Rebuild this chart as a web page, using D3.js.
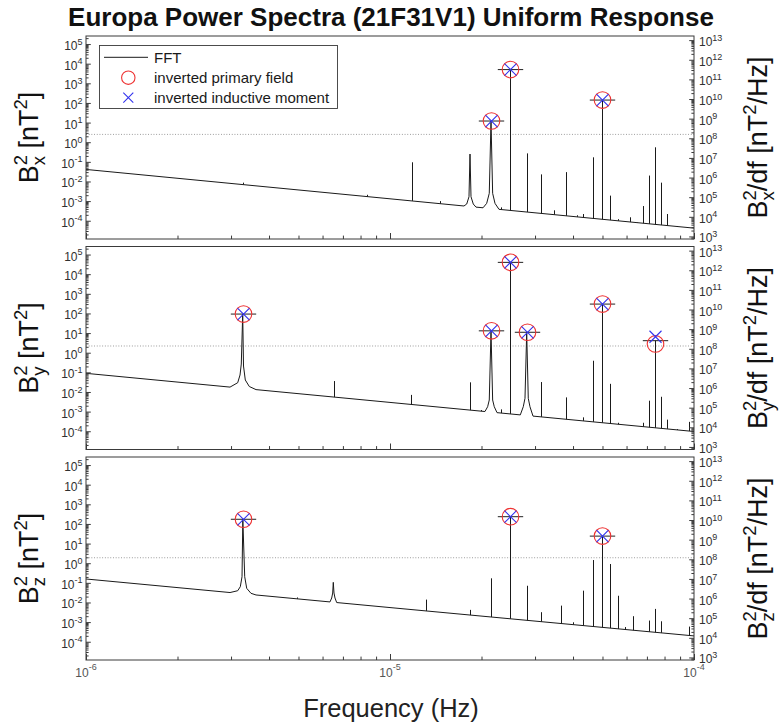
<!DOCTYPE html>
<html>
<head>
<meta charset="utf-8">
<script src="https://cdn.jsdelivr.net/npm/d3@7"></script>
<style>
  body { margin: 0; background: #fff; }
  svg { display: block; }
  text { font-family: "Liberation Sans", Arial, Helvetica, sans-serif; }
</style>
</head>
<body>
<svg id="chart" width="779" height="724"></svg>
<script>
// axis ranges (log10 exponents for the y axes)
const freqDomain = [1e-6, 1e-4];
const leftExp = [-4.93, 5.41];
const rightShift = 7.8;           // B^2/df axis = B^2 axis shifted by this many decades
const xMajor = [1e-6, 1e-5, 1e-4];

// smooth background of each FFT spectrum, [Hz, nT^2]
const bxBase = [[1e-6, 0.041], [1e-5, 1.31e-3], [1e-4, 4.2e-5]];
const byBase = [[1e-6, 0.089], [1e-5, 2.94e-3], [1e-4, 9.7e-5]];
const bzBase = [[1e-6, 0.157], [1e-5, 5.5e-3], [1e-4, 1.98e-4]];

// broad (resolved) peaks, traced point by point
const bxFlares = [
  [[1.751e-5, 5.64e-4], [1.788e-5, 7.1e-4], [1.819e-5, 1.67e-3], [1.833e-5, 0.25], [1.847e-5, 1.67e-3], [1.879e-5, 7.1e-4], [1.918e-5, 4.94e-4]],
  [[2.023e-5, 4.57e-4], [2.080e-5, 7.7e-4], [2.121e-5, 2.5e-3], [2.149e-5, 12], [2.176e-5, 2.5e-3], [2.215e-5, 7.7e-4], [2.283e-5, 3.81e-4]]
];
const byFlares = [
  [[2.977e-6, 0.0177], [3.155e-6, 0.0296], [3.211e-6, 0.0731], [3.242e-6, 0.265], [3.277e-6, 93], [3.297e-6, 0.210], [3.342e-6, 0.0407], [3.445e-6, 0.0190], [3.625e-6, 0.0132]],
  [[2.053e-5, 1.01e-3], [2.095e-5, 1.77e-3], [2.121e-5, 3.9e-3], [2.149e-5, 13], [2.176e-5, 3.9e-3], [2.203e-5, 1.77e-3], [2.249e-5, 8.85e-4]],
  [[2.683e-5, 6.8e-4], [2.744e-5, 1.77e-3], [2.780e-5, 4.75e-3], [2.816e-5, 11], [2.850e-5, 4.75e-3], [2.887e-5, 1.77e-3], [2.954e-5, 5.9e-4]]
];
const bzFlares = [
  [[2.977e-6, 0.0321], [3.155e-6, 0.0397], [3.218e-6, 0.0635], [3.260e-6, 0.205], [3.28e-6, 173], [3.327e-6, 0.205], [3.378e-6, 0.0526], [3.489e-6, 0.0293], [3.625e-6, 0.0241]],
  [[6.347e-6, 0.01066], [6.430e-6, 0.0169], [6.479e-6, 0.0303], [6.508e-6, 0.106], [6.543e-6, 0.0303], [6.593e-6, 0.0169], [6.678e-6, 0.0099]]
];

// narrow spectral lines, [Hz, peak nT^2]
const bxSpikes = [
  [3.277e-6, 8.7e-3], [8.40e-6, 2.1e-3], [1.179e-5, 0.095], [1.460e-5, 1.0e-3], [2.318e-5, 4.8e-4],
  [2.482e-5, 5000], [2.816e-5, 0.27], [3.138e-5, 0.023], [3.463e-5, 3.4e-4], [3.793e-5, 0.030],
  [4.114e-5, 1.9e-4], [4.305e-5, 2.2e-4], [4.643e-5, 0.17], [4.963e-5, 140], [5.292e-5, 1.9e-3],
  [5.623e-5, 1.2e-4], [6.158e-5, 1.5e-4], [6.479e-5, 8.3e-5], [6.795e-5, 5.6e-4], [7.128e-5, 0.020],
  [7.443e-5, 0.55], [7.771e-5, 8.7e-3], [8.120e-5, 2.2e-4], [8.772e-5, 5.4e-5]
];
const bySpikes = [
  [6.557e-6, 0.036], [1.173e-5, 7.1e-3], [1.833e-5, 0.031], [1.988e-5, 1.2e-3], [2.318e-5, 1.3e-3],
  [2.482e-5, 4.0e4], [3.138e-5, 0.032], [3.793e-5, 5.3e-3], [4.305e-5, 5.1e-4], [4.643e-5, 0.39],
  [4.963e-5, 300], [5.292e-5, 0.026], [5.623e-5, 2.7e-4], [6.795e-5, 2.7e-4], [7.128e-5, 3.6e-3],
  [7.443e-5, 4.1], [7.771e-5, 5.7e-3], [8.120e-5, 3.9e-4], [8.772e-5, 1.3e-4], [9.628e-5, 3.0e-4]
];
const bzSpikes = [
  [4.93e-6, 0.018], [1.309e-5, 0.014], [1.833e-5, 4.2e-3], [2.149e-5, 0.17], [2.482e-5, 234],
  [2.816e-5, 0.071], [3.138e-5, 3.2e-3], [3.660e-5, 6.9e-3], [3.991e-5, 9.8e-4], [4.31e-5, 0.040],
  [4.643e-5, 1.45], [4.963e-5, 24], [5.292e-5, 0.91], [5.623e-5, 0.022], [5.943e-5, 5.6e-4],
  [6.285e-5, 2.0e-3], [7.128e-5, 1.2e-3], [7.443e-5, 4.7e-3], [7.771e-5, 1.1e-3], [9.628e-5, 5.9e-4]
];

// dotted significance level per component
const thresholds = [2.5, 2.2, 1.9];

// inverted lines: frequency, FFT peak, primary field, inductive moment
const bxMarkFreq = [2.149e-5, 2.482e-5, 4.963e-5];
const bxMarkFFT = [12, 5000, 140];
const bxMarkPrimary = [12, 5000, 140];
const bxMarkInductive = [12, 5000, 140];
const byMarkFreq = [3.277e-6, 2.149e-5, 2.482e-5, 2.816e-5, 4.963e-5, 7.443e-5];
const byMarkFFT = [93, 13, 4.0e4, 11, 300, 4.1];
const byMarkPrimary = [93, 13, 4.0e4, 11, 300, 2.8];
const byMarkInductive = [93, 13, 4.0e4, 11, 300, 6.5];
const bzMarkFreq = [3.28e-6, 2.482e-5, 4.963e-5];
const bzMarkFFT = [173, 234, 24];
const bzMarkPrimary = [173, 234, 24];
const bzMarkInductive = [173, 234, 24];

const legendLabels = ['FFT', 'inverted primary field', 'inverted inductive moment'];

const panels = [
  { sub: 'x', base: bxBase, flares: bxFlares, spikes: bxSpikes, f: bxMarkFreq, fft: bxMarkFFT, prim: bxMarkPrimary, ind: bxMarkInductive },
  { sub: 'y', base: byBase, flares: byFlares, spikes: bySpikes, f: byMarkFreq, fft: byMarkFFT, prim: byMarkPrimary, ind: byMarkInductive },
  { sub: 'z', base: bzBase, flares: bzFlares, spikes: bzSpikes, f: bzMarkFreq, fft: bzMarkFFT, prim: bzMarkPrimary, ind: bzMarkInductive }
];

const svg = d3.select('#chart');
const plotL = 86, plotR = 694, panelH = 203;
const panelTops = [36, 246.5, 457];
const axisCol = '#3a3a3a';
const red = '#ee3333', blue = '#3333ee';

const x = d3.scaleLog().domain(freqDomain).range([plotL, plotR]);
const crisp = v => Math.round(v) + 0.5;

function logTicks(lo, hi, minor) {
  const out = [];
  for (let e = Math.floor(lo) - 1; e <= Math.ceil(hi); e++) {
    if (!minor) { if (e >= lo && e <= hi) out.push(Math.pow(10, e)); continue; }
    for (let k = 2; k <= 9; k++) {
      const l = Math.log10(k) + e;
      if (l >= lo && l <= hi) out.push(k * Math.pow(10, e));
    }
  }
  return out;
}

function powLabel(sel, e, expSize, expDy) {
  sel.append('tspan').text('10');
  sel.append('tspan').attr('font-size', expSize).attr('dy', expDy).text(String(e));
}

function axisTitle(g, tx, ty, sub, rightSide) {
  const t = g.append('text')
    .attr('transform', `translate(${tx},${ty}) rotate(-90)`)
    .attr('text-anchor', 'middle')
    .attr('font-size', 27)
    .attr('fill', '#111');
  t.append('tspan').text('B');
  t.append('tspan').attr('font-size', 18.5).attr('dy', -11).text('2');
  t.append('tspan').attr('font-size', 18.5).attr('dx', -10.3).attr('dy', 18).text(sub);
  t.append('tspan').attr('dy', -7).text(rightSide ? '/df [nT' : ' [nT');
  t.append('tspan').attr('font-size', 18.5).attr('dy', -11).text('2');
  t.append('tspan').attr('dy', 11).text(rightSide ? '/Hz]' : ']');
}

panels.forEach((p, i) => {
  const top = panelTops[i], bottom = top + panelH;
  const y = d3.scaleLog().domain([Math.pow(10, leftExp[0]), Math.pow(10, leftExp[1])]).range([bottom, top]);
  const yR = d3.scaleLog()
    .domain([Math.pow(10, leftExp[0] + rightShift), Math.pow(10, leftExp[1] + rightShift)])
    .range([bottom, top]);
  const g = svg.append('g');

  // background level in log-log space, to seat each narrow line on the spectrum
  const baseLog = d3.scaleLinear()
    .domain(p.base.map(d => Math.log10(d[0])))
    .range(p.base.map(d => Math.log10(d[1])));

  // dotted level
  g.append('line')
    .attr('x1', x(freqDomain[0])).attr('x2', x(freqDomain[1]))
    .attr('y1', y(thresholds[i])).attr('y2', y(thresholds[i]))
    .attr('stroke', '#777').attr('stroke-width', 0.8)
    .attr('stroke-dasharray', '0.9,1.8');

  // FFT: background plus resolved peaks
  const pts = p.base.concat(...p.flares).sort((a, b) => a[0] - b[0]);
  const line = d3.line().x(d => x(d[0])).y(d => y(d[1]));
  g.append('path').datum(pts)
    .attr('d', line)
    .attr('fill', 'none').attr('stroke', '#1a1a1a').attr('stroke-width', 1);

  // FFT: narrow lines
  g.append('g').selectAll('path').data(p.spikes).join('path')
    .attr('d', d => `M${crisp(x(d[0]))},${y(Math.pow(10, baseLog(Math.log10(d[0]))))}V${y(d[1])}`)
    .attr('fill', 'none').attr('stroke', '#1a1a1a').attr('stroke-width', 1);

  // markers
  const mk = g.append('g');
  p.f.forEach((f, j) => {
    const cx = crisp(x(f));
    mk.append('line')
      .attr('x1', cx - 12.7).attr('x2', cx + 12.7)
      .attr('y1', y(p.fft[j])).attr('y2', y(p.fft[j]))
      .attr('stroke', '#222').attr('stroke-width', 1);
    mk.append('circle')
      .attr('cx', cx).attr('cy', y(p.prim[j])).attr('r', 8.3)
      .attr('fill', 'none').attr('stroke', red).attr('stroke-width', 1.1);
    const cy = y(p.ind[j]), s = 6;
    mk.append('path')
      .attr('d', `M${cx - s},${cy - s}L${cx + s},${cy + s}M${cx - s},${cy + s}L${cx + s},${cy - s}`)
      .attr('stroke', blue).attr('stroke-width', 1.1);
  });

  // box
  g.append('rect')
    .attr('x', plotL).attr('y', top).attr('width', plotR - plotL).attr('height', panelH)
    .attr('fill', 'none').attr('stroke', axisCol).attr('stroke-width', 1);

  // left axis ticks
  const ax = g.append('g').attr('color', axisCol);
  ax.append('g').attr('transform', `translate(${plotL},0)`)
    .call(d3.axisLeft(y).tickValues(logTicks(leftExp[0], leftExp[1], true)).tickSize(-2.6).tickFormat(''))
    .call(s => s.select('.domain').remove());
  ax.append('g').attr('transform', `translate(${plotL},0)`)
    .call(d3.axisLeft(y).tickValues(logTicks(leftExp[0], leftExp[1], false)).tickSize(-4.8).tickFormat(''))
    .call(s => s.select('.domain').remove());
  // right axis ticks
  const rlo = leftExp[0] + rightShift, rhi = leftExp[1] + rightShift;
  ax.append('g').attr('transform', `translate(${plotR},0)`)
    .call(d3.axisRight(yR).tickValues(logTicks(rlo, rhi, true)).tickSize(-2.6).tickFormat(''))
    .call(s => s.select('.domain').remove());
  ax.append('g').attr('transform', `translate(${plotR},0)`)
    .call(d3.axisRight(yR).tickValues(logTicks(rlo, rhi, false)).tickSize(-4.8).tickFormat(''))
    .call(s => s.select('.domain').remove());
  // bottom ticks
  ax.append('g').attr('transform', `translate(0,${bottom})`)
    .call(d3.axisBottom(x).tickValues(logTicks(-6, -4, true)).tickSize(-3.4).tickFormat(''))
    .call(s => s.select('.domain').remove());
  ax.append('g').attr('transform', `translate(0,${bottom})`)
    .call(d3.axisBottom(x).tickValues(xMajor).tickSize(-6).tickFormat(''))
    .call(s => s.select('.domain').remove());

  // tick labels
  logTicks(leftExp[0], leftExp[1], false).forEach(v => {
    const t = g.append('text').attr('x', plotL - 3.5).attr('y', y(v) + 6)
      .attr('text-anchor', 'end').attr('font-size', 12).attr('fill', '#303030');
    powLabel(t, Math.round(Math.log10(v)), 9, -5.4);
  });
  logTicks(rlo, rhi, false).forEach(v => {
    const t = g.append('text').attr('x', plotR + 5).attr('y', yR(v) + 6)
      .attr('text-anchor', 'start').attr('font-size', 12).attr('fill', '#303030');
    powLabel(t, Math.round(Math.log10(v)), 9, -5.4);
  });
  if (i === panels.length - 1) {
    xMajor.forEach(v => {
      const t = g.append('text').attr('x', x(v)).attr('y', bottom + 16.7)
        .attr('text-anchor', 'middle').attr('font-size', 12).attr('fill', '#555');
      powLabel(t, Math.round(Math.log10(v)), 9, -6.5);
    });
  }

  axisTitle(g, 37.5, top + panelH / 2, p.sub, false);
  axisTitle(svg, 767, top + panelH / 2, p.sub, true);
});

// legend
const lg = svg.append('g');
lg.append('rect').attr('x', 99.5).attr('y', 45.5).attr('width', 238).attr('height', 63)
  .attr('fill', '#fff').attr('stroke', axisCol).attr('stroke-width', 0.9);
const rowY = [57.3, 77.7, 97.7];
lg.append('line').attr('x1', 104).attr('x2', 148).attr('y1', rowY[0]).attr('y2', rowY[0])
  .attr('stroke', '#1a1a1a').attr('stroke-width', 1);
lg.append('circle').attr('cx', 128.3).attr('cy', rowY[1]).attr('r', 6.7)
  .attr('fill', 'none').attr('stroke', red).attr('stroke-width', 1.1);
lg.append('path')
  .attr('d', `M${128.3 - 5},${rowY[2] - 5}L${128.3 + 5},${rowY[2] + 5}M${128.3 - 5},${rowY[2] + 5}L${128.3 + 5},${rowY[2] - 5}`)
  .attr('stroke', blue).attr('stroke-width', 1.1);
legendLabels.forEach((s, k) => {
  lg.append('text').attr('x', 154).attr('y', rowY[k] + 5.3)
    .attr('font-size', 15).attr('fill', '#1a1a1a').text(s);
});

// titles
svg.append('text').attr('x', 391).attr('y', 26)
  .attr('text-anchor', 'middle').attr('font-size', 26).attr('font-weight', 'bold').attr('fill', '#111')
  .text('Europa Power Spectra (21F31V1) Uniform Response');
svg.append('text').attr('x', 391).attr('y', 716.7)
  .attr('text-anchor', 'middle').attr('font-size', 25.5).attr('fill', '#222')
  .text('Frequency (Hz)');
</script>
</body>
</html>
